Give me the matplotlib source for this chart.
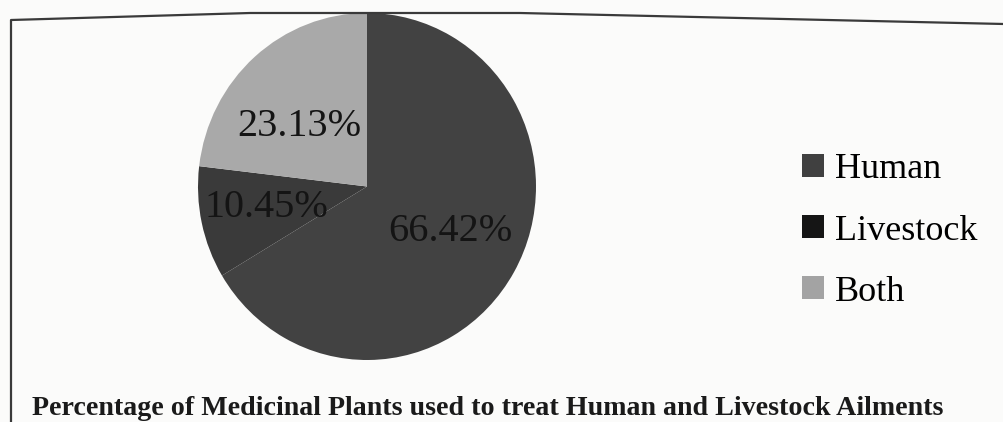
import matplotlib.pyplot as plt
from matplotlib.lines import Line2D
from matplotlib.patches import Patch

# Share of medicinal plants by use
labels = ['Human', 'Livestock', 'Both']
shares = [66.42, 10.45, 23.13]
slice_colors = ['#424242', '#3a3a3a', '#a9a9a9']
legend_colors = ['#404040', '#151515', '#a3a3a3']
title = 'Percentage of Medicinal Plants used to treat Human and Livestock Ailments'

plt.rcParams['font.family'] = ['Liberation Serif', 'DejaVu Serif']

W, H = 1004, 422
fig = plt.figure(figsize=(W / 100, H / 100), dpi=100, facecolor='#fbfbfa')

# pie area (slightly taller than wide, as printed)
ax = fig.add_axes([198 / W, (H - 360) / H, 338 / W, 347 / H])
wedges, texts, autotexts = ax.pie(
    shares, colors=slice_colors, startangle=90, counterclock=False,
    autopct='%.2f%%', pctdistance=0.57,
    textprops={'fontsize': 29, 'color': '#141414'})
ax.set_aspect('auto')
ax.set_xlim(-1, 1)
ax.set_ylim(-1, 1)
ax.axis('off')

# small hand adjustments of the value labels
for t, (dx, dy) in zip(autotexts, [(0.0, 0.02), (-0.04, 0.0), (-0.02, -0.08)]):
    x, y = t.get_position()
    t.set_position((x + dx, y + dy))

handles = [Patch(facecolor=c, edgecolor='none') for c in legend_colors]
fig.legend(handles, labels, loc='center left', bbox_to_anchor=(770 / W, 1 - 231 / H),
           frameon=False, prop={'size': 26}, handlelength=0.6, handleheight=0.6,
           handletextpad=0.3, labelspacing=0.78)

fig.text(32 / W, 1 - 415 / H, title, fontsize=20.2, fontweight='bold',
         color='#1a1a1a', ha='left', va='baseline')

# border of the printed chart box
fig.add_artist(Line2D([11 / W, 11 / W, 250 / W, 520 / W, 1.0],
                      [0.0, 1 - 20 / H, 1 - 13 / H, 1 - 13 / H, 1 - 24 / H],
                      transform=fig.transFigure, color='#3a3a3a', lw=1.6))

fig.savefig('out.png', dpi=100, facecolor=fig.get_facecolor())
